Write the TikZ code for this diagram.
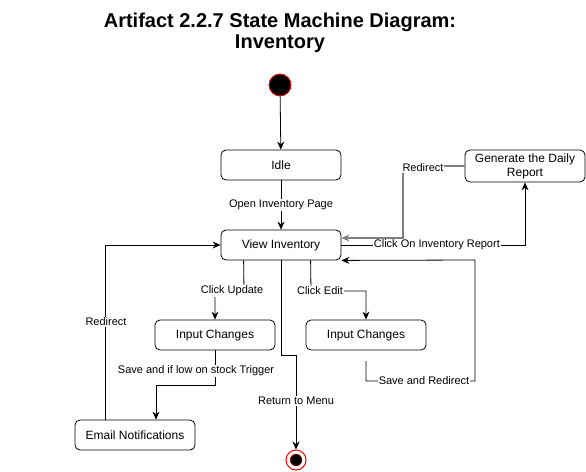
\documentclass[tikz,border=0pt]{standalone}
\usepackage{fontspec}
\setmainfont{Liberation Sans}
\usetikzlibrary{arrows.meta,calc}
\tikzset{
  state/.style={draw, rounded corners=5pt, minimum width=120pt, minimum height=30pt, inner sep=0pt, line width=0.8pt, font=\fontsize{12}{14}\selectfont, align=center},
  lbl/.style={fill=white, inner sep=1pt, font=\fontsize{11}{13}\selectfont},
  arr/.style={-{Stealth[length=8pt,width=7pt]}, line width=0.8pt},
  titletxt/.style={font=\fontsize{20}{21}\selectfont\bfseries, align=center}
}
\begin{document}
\begin{tikzpicture}[x=1pt,y=-1pt]
\useasboundingbox (0,0) rectangle (586,471);
\node[titletxt] (title) at (280,33) {Artifact 2.2.7 State Machine Diagram:\\Inventory};

\node[circle, fill=black, draw=red, line width=0.8pt, minimum size=22pt, inner sep=0pt] (start) at (280,85) {};
\node[state] (idle) at (281,165) {Idle};
\node[state] (view) at (281,245) {View Inventory};
\node[state, minimum height=32pt] (gdr) at (525,166) {Generate the Daily\\Report};
\node[state] (in1) at (215,335) {Input Changes};
\node[state] (in2) at (366,335) {Input Changes};
\node[state] (email) at (135,435) {Email Notifications};
\node[circle, draw=red, line width=1pt, minimum size=20pt, inner sep=0pt] (end) at (296,460) {};
\node[circle, fill=black, draw=red, line width=0.4pt, minimum size=12pt, inner sep=0pt] (endin) at (end) {};
\coordinate (s2) at (366,361);

\draw[arr] (start) -- (idle);
\draw[arr] (idle) -- node[lbl]{Open Inventory Page} (view);
\draw[arr] (view.east) -| node[lbl, pos=0.26]{Click On Inventory Report} (gdr.south);
\draw[arr, draw=gray, line width=1.2pt] (gdr.west) -- (403,166) -- (403,238) -- ($(view.east)+(0,-7)$);
\node[lbl] (lr1) at (423,168) {Redirect};
\draw[arr] (s2) -- (366,381) -- (475,381) -- (475,260) -- (view.south east);
\node[lbl] (lsr) at (424,381) {Save and Redirect};
\draw[arr] ($(view.south west)+(23,0)$) -- (244,291) -- (215,291) -- (in1.north);
\node[lbl] (lcu) at (232,291) {Click Update};
\draw[arr] ($(view.south west)+(90,0)$) -- (311,291) -- (366,291) -- (in2.north);
\node[lbl] (lce) at (320,291) {Click Edit};
\draw[arr] (view.south) -- (281,355) -- (296,355) -- (end.north);
\node[lbl] (lrm) at (296,401) {Return to Menu};
\draw[arr] (in1.south) -- (215,385) -- (156,385) -- ($(email.north)+(21,0)$);
\node[lbl] (lsl) at (196,371) {Save and if low on stock Trigger};
\draw[arr] ($(email.north)+(-30,0)$) -- (105,245) -- (view.west);
\node[lbl] (lr2) at (106,322) {Redirect};
\end{tikzpicture}
\end{document}
